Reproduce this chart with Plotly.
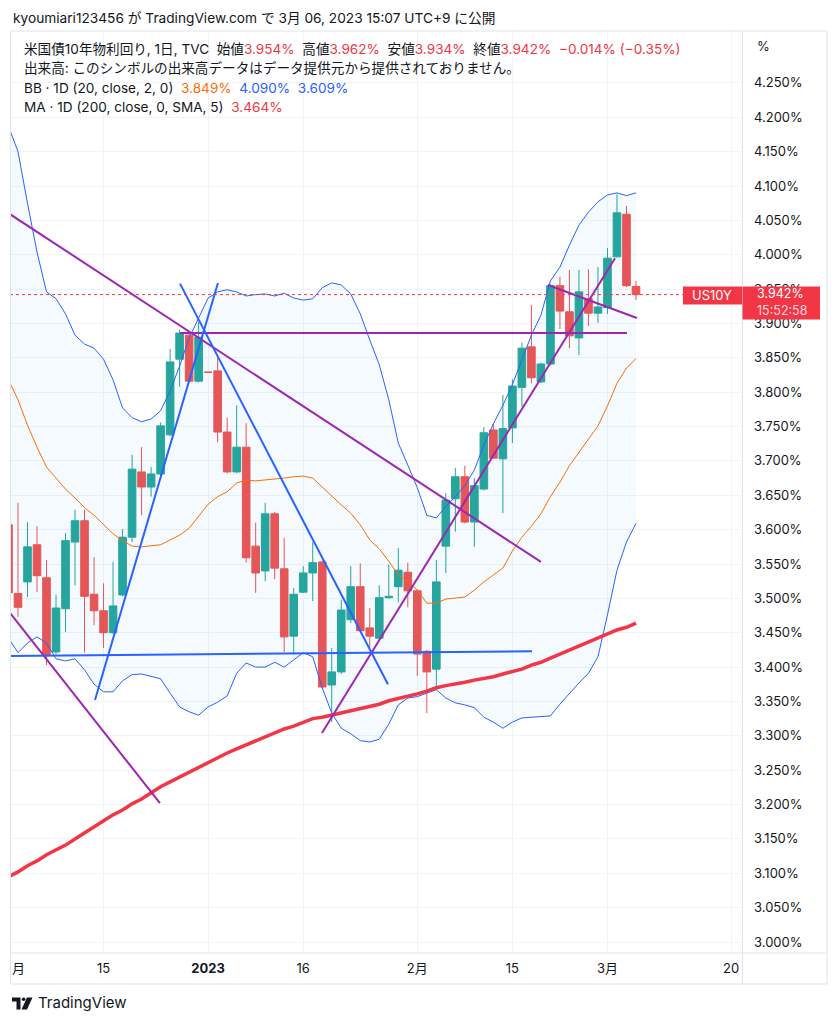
import plotly.graph_objects as go

# US10Y (TVC) daily bars
dates = [
    "2022-12-01", "2022-12-02", "2022-12-05", "2022-12-06", "2022-12-07", "2022-12-08", "2022-12-09",
    "2022-12-12", "2022-12-13", "2022-12-14", "2022-12-15", "2022-12-16", "2022-12-19", "2022-12-20",
    "2022-12-21", "2022-12-22", "2022-12-23", "2022-12-27", "2022-12-28", "2022-12-29", "2022-12-30",
    "2023-01-02", "2023-01-03", "2023-01-04", "2023-01-05", "2023-01-06", "2023-01-09", "2023-01-10",
    "2023-01-11", "2023-01-12", "2023-01-13", "2023-01-16", "2023-01-17", "2023-01-18", "2023-01-19",
    "2023-01-20", "2023-01-23", "2023-01-24", "2023-01-25", "2023-01-26", "2023-01-27", "2023-01-30",
    "2023-01-31", "2023-02-01", "2023-02-02", "2023-02-03", "2023-02-06", "2023-02-07", "2023-02-08",
    "2023-02-09", "2023-02-10", "2023-02-13", "2023-02-14", "2023-02-15", "2023-02-16", "2023-02-17",
    "2023-02-20", "2023-02-21", "2023-02-22", "2023-02-23", "2023-02-24", "2023-02-27", "2023-02-28",
    "2023-03-01", "2023-03-02", "2023-03-03", "2023-03-06",
]
opens = [3.607, 3.507, 3.524, 3.578, 3.530, 3.422, 3.485, 3.582, 3.613, 3.506,
         3.482, 3.450, 3.505, 3.589, 3.684, 3.662, 3.681, 3.738, 3.848, 3.883,
         3.816, 3.829, 3.831, 3.742, 3.684, 3.720, 3.576, 3.540, 3.623, 3.543,
         3.445, 3.509, 3.537, 3.553, 3.374, 3.393, 3.469, 3.517, 3.457, 3.442,
         3.501, 3.517, 3.538, 3.511, 3.423, 3.397, 3.576, 3.645, 3.677, 3.611,
         3.659, 3.745, 3.703, 3.748, 3.807, 3.866, 3.815, 3.841, 3.955, 3.917,
         3.879, 3.936, 3.915, 3.923, 3.997, 4.059, 3.954]
highs = [3.615, 3.639, 3.611, 3.605, 3.556, 3.505, 3.595, 3.629, 3.629, 3.560,
         3.522, 3.553, 3.601, 3.709, 3.720, 3.691, 3.756, 3.863, 3.891, 3.888,
         3.902, 3.829, 3.850, 3.763, 3.781, 3.755, 3.610, 3.639, 3.626, 3.588,
         3.515, 3.547, 3.582, 3.555, 3.428, 3.498, 3.547, 3.551, 3.486, 3.519,
         3.549, 3.573, 3.552, 3.513, 3.425, 3.556, 3.653, 3.690, 3.693, 3.675,
         3.749, 3.754, 3.796, 3.819, 3.872, 3.927, 3.843, 3.957, 3.968, 3.978,
         3.978, 3.979, 3.982, 4.010, 4.088, 4.071, 3.962]
lows = [3.500, 3.473, 3.502, 3.509, 3.403, 3.419, 3.451, 3.519, 3.421, 3.461,
        3.428, 3.448, 3.503, 3.582, 3.621, 3.648, 3.678, 3.736, 3.808, 3.815,
        3.814, 3.829, 3.727, 3.682, 3.682, 3.552, 3.508, 3.525, 3.528, 3.422,
        3.418, 3.508, 3.496, 3.368, 3.320, 3.390, 3.464, 3.452, 3.429, 3.441,
        3.499, 3.494, 3.487, 3.387, 3.333, 3.367, 3.537, 3.597, 3.609, 3.575,
        3.657, 3.703, 3.624, 3.726, 3.779, 3.813, 3.813, 3.839, 3.892, 3.864,
        3.854, 3.896, 3.901, 3.914, 3.996, 3.953, 3.934]
closes = [3.508, 3.487, 3.575, 3.533, 3.418, 3.486, 3.584, 3.613, 3.503, 3.482,
          3.450, 3.489, 3.589, 3.688, 3.662, 3.681, 3.751, 3.844, 3.886, 3.816,
          3.880, 3.829, 3.742, 3.684, 3.720, 3.559, 3.537, 3.623, 3.544, 3.444,
          3.506, 3.537, 3.552, 3.371, 3.393, 3.483, 3.517, 3.453, 3.445, 3.501,
          3.503, 3.541, 3.511, 3.419, 3.393, 3.524, 3.643, 3.677, 3.611, 3.664,
          3.741, 3.704, 3.747, 3.809, 3.864, 3.821, 3.841, 3.955, 3.918, 3.882,
          3.946, 3.915, 3.924, 3.995, 4.061, 3.955, 3.942]

# Bollinger bands (20, 2) and 200 SMA, one value per bar
bb_upper = [4.187, 4.150, 4.075, 4.004, 3.946, 3.936, 3.914, 3.883, 3.870, 3.864,
            3.848, 3.818, 3.777, 3.763, 3.757, 3.761, 3.773, 3.802, 3.838, 3.879,
            3.908, 3.937, 3.946, 3.949, 3.946, 3.940, 3.942, 3.943, 3.940, 3.944,
            3.937, 3.934, 3.936, 3.952, 3.959, 3.956, 3.943, 3.914, 3.876, 3.840,
            3.789, 3.726, 3.694, 3.661, 3.621, 3.617, 3.634, 3.648, 3.664, 3.687,
            3.723, 3.754, 3.781, 3.811, 3.847, 3.883, 3.912, 3.962, 3.982, 4.014,
            4.043, 4.062, 4.077, 4.087, 4.090, 4.086, 4.090]
bb_basis = [3.818, 3.789, 3.752, 3.720, 3.691, 3.675, 3.659, 3.646, 3.632, 3.621,
            3.608, 3.594, 3.584, 3.576, 3.575, 3.576, 3.578, 3.585, 3.592, 3.602,
            3.620, 3.637, 3.648, 3.655, 3.668, 3.672, 3.671, 3.672, 3.674, 3.675,
            3.677, 3.678, 3.675, 3.662, 3.648, 3.636, 3.624, 3.607, 3.585, 3.572,
            3.554, 3.534, 3.524, 3.512, 3.493, 3.493, 3.499, 3.501, 3.502, 3.512,
            3.524, 3.534, 3.544, 3.569, 3.589, 3.605, 3.623, 3.648, 3.669, 3.693,
            3.712, 3.731, 3.751, 3.780, 3.813, 3.835, 3.849]
bb_lower = [3.442, 3.421, 3.435, 3.444, 3.435, 3.412, 3.409, 3.412, 3.396, 3.375,
            3.364, 3.364, 3.380, 3.389, 3.390, 3.387, 3.383, 3.362, 3.342, 3.335,
            3.330, 3.342, 3.349, 3.358, 3.391, 3.406, 3.400, 3.400, 3.407, 3.400,
            3.410, 3.421, 3.415, 3.370, 3.333, 3.311, 3.303, 3.293, 3.291, 3.295,
            3.317, 3.345, 3.355, 3.357, 3.362, 3.367, 3.355, 3.348, 3.345, 3.341,
            3.327, 3.320, 3.311, 3.320, 3.326, 3.327, 3.327, 3.329, 3.346, 3.362,
            3.377, 3.391, 3.415, 3.476, 3.541, 3.582, 3.609]
ma200 = [3.095, 3.102, 3.111, 3.118, 3.127, 3.134, 3.141, 3.150, 3.159, 3.167,
         3.176, 3.185, 3.192, 3.201, 3.208, 3.217, 3.226, 3.233, 3.240, 3.247,
         3.255, 3.262, 3.269, 3.275, 3.281, 3.287, 3.293, 3.298, 3.304, 3.310,
         3.314, 3.320, 3.325, 3.327, 3.330, 3.333, 3.336, 3.339, 3.343, 3.346,
         3.351, 3.354, 3.358, 3.361, 3.365, 3.370, 3.373, 3.375, 3.378, 3.381,
         3.383, 3.386, 3.390, 3.393, 3.397, 3.403, 3.407, 3.413, 3.419, 3.425,
         3.431, 3.437, 3.442, 3.448, 3.454, 3.458, 3.464]

# hand-drawn trend lines: (bar0, price0, bar1, price1)
purple_lines = [
    (0.16, 4.059, 56.0, 3.553),
    (18.04, 3.886, 65.05, 3.886),
    (56.74, 3.956, 66.1, 3.908),
    (32.97, 3.304, 63.79, 3.995),
    (0.16, 3.479, 15.93, 3.202),
]
blue_lines = [
    (9.10, 3.352, 22.03, 3.959),
    (18.04, 3.958, 39.91, 3.375),
    (0.16, 3.416, 55.06, 3.423),
]

# axis ticks
time_tick_bars = [10, 21, 31, 43, 53, 63, 76]
time_tick_text = ["15", "<b>2023</b>", "16", "2月", "15", "3月", "20"]
price_ticks = [3.00, 3.05, 3.10, 3.15, 3.20, 3.25, 3.30, 3.35, 3.40, 3.45, 3.50, 3.55, 3.60,
               3.65, 3.70, 3.75, 3.80, 3.85, 3.90, 3.95, 4.00, 4.05, 4.10, 4.15, 4.20, 4.25]

FONT = "Inter, 'Noto Sans CJK JP', sans-serif"
TEXT = "#131722"
UP, DOWN = "#26a69a", "#ef5350"
RED = "#f23645"
PURPLE = "#9c27b0"
BLUE = "#2962ff"
BORDER = "#e0e3eb"

# the page body has an 8px margin, so the figure is a bit smaller and
# all page-pixel positions are shifted by OFF
OFF = 8
W, H = 838 - OFF, 1024 - OFF
L, T = 10 - OFF, 30 - OFF
R = W - (742 - OFF)
B = H - (953 - OFF)
PW, PH = W - L - R, H - T - B
X_RANGE = [0.16, 77.15]
Y_RANGE = [2.984, 4.327]


def fx(px):
    return (px - OFF - L) / PW


def fy(py):
    return (H - B - (py - OFF)) / PH


def price_y(p):
    return (p - Y_RANGE[0]) / (Y_RANGE[1] - Y_RANGE[0])


bars = list(range(len(dates)))

fig = go.Figure()

fig.add_trace(go.Scatter(x=bars, y=bb_upper, mode="lines", line=dict(color=BLUE, width=1),
                         hoverinfo="skip"))
fig.add_trace(go.Scatter(x=bars, y=bb_lower, mode="lines", line=dict(color=BLUE, width=1),
                         fill="tonexty", fillcolor="rgba(33,150,243,0.05)", hoverinfo="skip"))
fig.add_trace(go.Scatter(x=bars, y=bb_basis, mode="lines", line=dict(color="#ff6d00", width=1),
                         hoverinfo="skip"))
fig.add_trace(go.Scatter(x=bars, y=ma200, mode="lines", line=dict(color=RED, width=3.5),
                         hoverinfo="skip"))

fig.add_trace(go.Candlestick(
    x=bars, open=opens, high=highs, low=lows, close=closes, text=dates,
    increasing=dict(line=dict(color=UP, width=1), fillcolor=UP),
    decreasing=dict(line=dict(color=DOWN, width=1), fillcolor=DOWN),
    whiskerwidth=0,
))

for x0, y0, x1, y1 in purple_lines:
    fig.add_trace(go.Scatter(x=[x0, x1], y=[y0, y1], mode="lines",
                             line=dict(color=PURPLE, width=2), hoverinfo="skip"))
for x0, y0, x1, y1 in blue_lines:
    fig.add_trace(go.Scatter(x=[x0, x1], y=[y0, y1], mode="lines",
                             line=dict(color=BLUE, width=2), hoverinfo="skip"))

last = closes[-1]

# last price line
fig.add_shape(type="line", xref="paper", yref="y", x0=0, x1=1, y0=last, y1=last,
              line=dict(color=RED, width=1, dash="dot"))

# frame and separators
fig.add_shape(type="rect", xref="paper", yref="paper", x0=fx(10.5), x1=fx(827), y0=fy(31), y1=fy(984),
              line=dict(color=BORDER, width=1), layer="above")
fig.add_shape(type="line", xref="paper", yref="paper", x0=fx(742.5), x1=fx(742.5), y0=fy(31), y1=fy(984),
              line=dict(color=BORDER, width=1), layer="above")
fig.add_shape(type="line", xref="paper", yref="paper", x0=fx(10.5), x1=fx(827), y0=fy(953), y1=fy(953),
              line=dict(color=BORDER, width=1), layer="above")

# price labels
yl = price_y(last)
fig.add_shape(type="rect", xref="paper", yref="paper", x0=fx(683), x1=fx(742), y0=yl - 10 / PH,
              y1=yl + 8 / PH, fillcolor=RED, line=dict(width=0), layer="above")
fig.add_shape(type="rect", xref="paper", yref="paper", x0=fx(742.5), x1=fx(820), y0=yl - 25 / PH,
              y1=yl + 8 / PH, fillcolor=RED, line=dict(width=0), layer="above")


# TradingView logo
def path(points):
    return "M " + " L ".join(f"{fx(a):.5f},{fy(b):.5f}" for a, b in points) + " Z"


fig.add_shape(type="path", xref="paper", yref="paper", fillcolor=TEXT, line=dict(width=0),
              path=path([(12, 997.5), (20.5, 997.5), (20.5, 1009.5), (16.5, 1009.5), (16.5, 1001.5), (12, 1001.5)]))
fig.add_shape(type="path", xref="paper", yref="paper", fillcolor=TEXT, line=dict(width=0),
              path=path([(27, 997.5), (32.5, 997.5), (27, 1009.5), (21.5, 1009.5)]))
fig.add_shape(type="circle", xref="paper", yref="paper", fillcolor=TEXT, line=dict(width=0),
              x0=fx(21.8), x1=fx(25.4), y0=fy(997.5), y1=fy(1001.1))

red = f'<span style="color:{RED}">'
sp = "\u00a0\u00a0"
LEG = 13.6
ann = [
    dict(x=fx(11), y=fy(18), text="kyoumiari123456 が TradingView.com で 3月 06, 2023 15:07 UTC+9 に公開",
         font=dict(size=13.7, color=TEXT)),
    dict(x=fx(22), y=fy(49),
         text=f"米国債10年物利回り, 1日, TVC{sp}始値{red}3.954%</span>{sp}高値{red}3.962%</span>{sp}"
              f"安値{red}3.934%</span>{sp}終値{red}3.942%</span>{sp}{red}−0.014% (−0.35%)</span>",
         font=dict(size=LEG, color=TEXT)),
    dict(x=fx(22), y=fy(68), text="出来高: このシンボルの出来高データはデータ提供元から提供されておりません。",
         font=dict(size=LEG, color=TEXT)),
    dict(x=fx(22), y=fy(88),
         text=f'BB · 1D (20, close, 2, 0){sp}<span style="color:#ff6d00">3.849%</span>{sp}'
              f'<span style="color:{BLUE}">4.090%</span>{sp}<span style="color:{BLUE}">3.609%</span>',
         font=dict(size=LEG, color=TEXT)),
    dict(x=fx(22), y=fy(107), text=f"MA · 1D (200, close, 0, SMA, 5){sp}{red}3.464%</span>",
         font=dict(size=LEG, color=TEXT)),
    dict(x=fx(755), y=fy(46), text="%", font=dict(size=13, color=TEXT)),
    dict(x=fx(10), y=fy(968), text="月", font=dict(size=13, color=TEXT)),
    dict(x=fx(36), y=fy(1003), text="TradingView", font=dict(size=15, color=TEXT)),
    dict(x=fx(755), y=yl + 1 / PH, text=f"{last:.3f}%", font=dict(size=12.5, color="white")),
    dict(x=fx(755), y=yl - 16 / PH, text="15:52:58", font=dict(size=12.5, color="rgba(255,255,255,0.8)")),
    dict(x=fx(712), y=yl, text="US10Y", xanchor="center", font=dict(size=13, color="white")),
]
for a in ann:
    a.setdefault("xanchor", "left")
    fig.add_annotation(xref="paper", yref="paper", yanchor="middle", showarrow=False, **a)

fig.update_layout(
    width=W, height=H,
    margin=dict(l=L, r=R, t=T, b=B),
    paper_bgcolor="white", plot_bgcolor="white",
    font=dict(family=FONT, size=13, color=TEXT),
    showlegend=False,
    boxgap=0.2, boxgroupgap=0,
    hovermode="x",
)
fig.update_xaxes(
    range=X_RANGE, rangeslider_visible=False,
    tickvals=time_tick_bars, ticktext=time_tick_text,
    showgrid=True, gridcolor="#f0f3fa", zeroline=False, showline=False,
    ticks="", ticklabelstandoff=6, tickfont=dict(size=13, color=TEXT),
)
fig.update_yaxes(
    range=Y_RANGE, side="right",
    tickvals=price_ticks, ticktext=[f"{v:.3f}%" for v in price_ticks],
    showgrid=True, gridcolor="#f0f3fa", zeroline=False, showline=False,
    ticks="", ticklabelstandoff=11, tickfont=dict(size=13, color=TEXT),
)

fig.write_html("out.html")
